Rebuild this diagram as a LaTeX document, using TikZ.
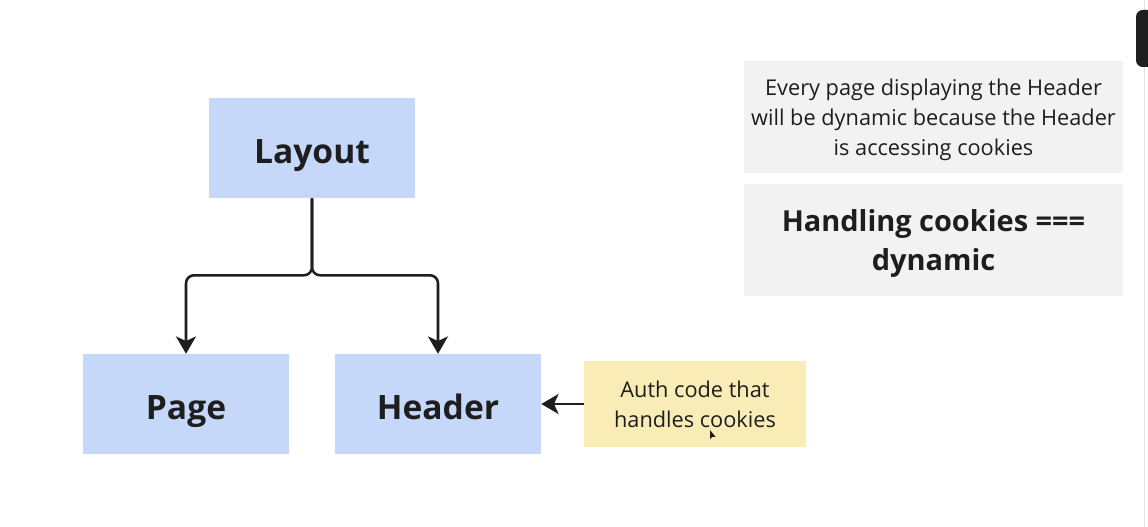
\documentclass[tikz,border=0pt]{standalone}
\usepackage{fontspec}
\setmainfont{Open Sans}
\usetikzlibrary{arrows.meta}

\definecolor{ink}{RGB}{30,30,30}
\definecolor{boxblue}{RGB}{198,216,249}
\definecolor{noteyellow}{RGB}{249,236,183}
\definecolor{notegrey}{RGB}{242,242,242}

\tikzset{
  block/.style={fill=boxblue, text=ink, minimum width=154.5pt, minimum height=75pt,
    text height=23pt, text depth=0pt, font=\fontsize{25.2}{30}\selectfont\bfseries},
  stickynote/.style={fill=noteyellow, text=ink, minimum width=166.5pt, minimum height=64.5pt,
    align=center, font=\fontsize{16.3}{22.5}\selectfont},
  greynote/.style={fill=notegrey, text=ink, minimum width=284.25pt, minimum height=84pt,
    align=center, text depth=0pt, font=\fontsize{16.3}{22.5}\selectfont},
  conn/.style={draw=ink, line width=1.9pt, rounded corners=6pt,
    -{Stealth[length=13pt, width=15pt, inset=3.5pt]}}
}

\begin{document}
\begin{tikzpicture}[x=0.75pt, y=-0.75pt]
\useasboundingbox[fill=white] (0,0) rectangle (1148,527);

\node[block] (layout) at (312,148) {Layout};
\node[block] (page) at (186,404) {Page};
\node[block] (header) at (438,404) {Header};

\node[stickynote] (auth) at (695,404) {Auth code that\\handles cookies};

\node[greynote] (every) at (933.5,117) {Every page displaying the Header\\will be dynamic because the Header\\is accessing cookies};
\node[greynote, font=\fontsize{21.7}{29}\selectfont\bfseries] (rule) at (933.5,240) {Handling cookies ===\\dynamic};

% connectors
\draw[conn] (layout.south) -- ++(0,77) -| (page.north);
\draw[conn] (layout.south) -- ++(0,77) -| (header.north);
\draw[conn, rounded corners=0pt] (auth.west) -- (header.east);

% mouse pointer and scroll tab
\fill[ink] (710,430) -- (710,439) -- (712.2,436.8) -- (715.5,436.8) -- cycle;
\draw[black!12, line width=0.75pt] (1144,0) -- (1144,527);
\fill[black!88, rounded corners=5pt] (1136,10) rectangle (1160,67);
\end{tikzpicture}
\end{document}
